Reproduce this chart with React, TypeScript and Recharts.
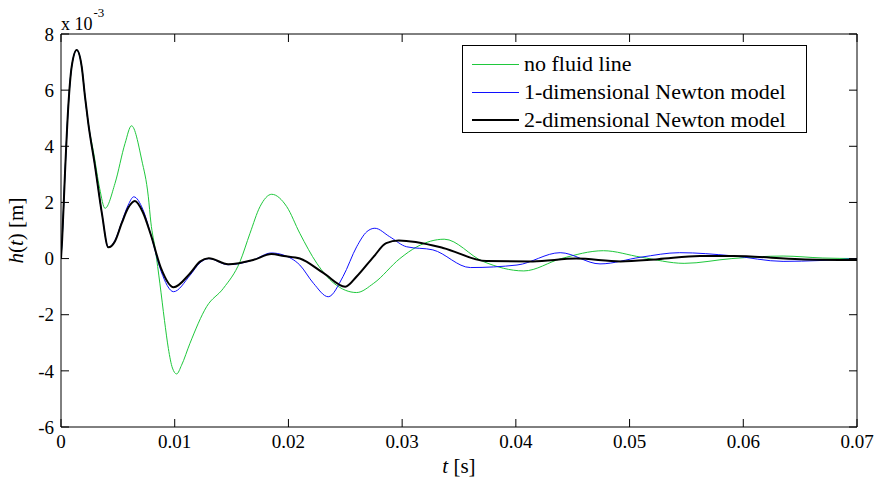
import { LineChart, Line, XAxis, YAxis, Label } from 'recharts'

// time in seconds, height in units of 1e-3 m
const xTicks = [0, 0.01, 0.02, 0.03, 0.04, 0.05, 0.06, 0.07]
const yTicks = [-6, -4, -2, 0, 2, 4, 6, 8]

const greenT = [0, 0.0001, 0.00035, 0.00064, 0.00094, 0.00138, 0.00182, 0.00211, 0.0024, 0.0029, 0.0034, 0.00387, 0.00475, 0.00563, 0.0062, 0.0071, 0.00768, 0.0079, 0.0083, 0.0087, 0.0091, 0.00944, 0.0098, 0.01017, 0.0106, 0.01134, 0.01281, 0.01428, 0.01574, 0.01662, 0.0175, 0.01853, 0.01985, 0.021, 0.0225, 0.024, 0.026, 0.0275, 0.0298, 0.0313, 0.0337, 0.0371, 0.0407, 0.044, 0.0477, 0.051, 0.0548, 0.059, 0.0635, 0.067, 0.07]
const greenH = [0, 0.66, 3.04, 5.41, 6.84, 7.43, 6.84, 5.77, 4.82, 3.7, 2.5, 1.79, 2.68, 4.1, 4.73, 3.51, 2.2, 1.3, 0.3, -0.9, -2.2, -3.2, -3.9, -4.11, -3.8, -3.02, -1.71, -1.06, -0.11, 0.9, 1.85, 2.29, 1.85, 0.9, -0.17, -0.88, -1.21, -0.88, 0.0, 0.42, 0.69, -0.1, -0.44, 0.0, 0.28, 0.05, -0.17, 0.0, 0.09, 0.02, 0.0]

const blueT = [0, 0.0001, 0.00035, 0.00064, 0.00094, 0.00138, 0.00182, 0.00211, 0.0024, 0.003, 0.0036, 0.00416, 0.00475, 0.00534, 0.0059, 0.0064, 0.0072, 0.0079, 0.0088, 0.0099, 0.01134, 0.01222, 0.013, 0.0147, 0.0169, 0.0185, 0.0196, 0.021, 0.0222, 0.0235, 0.0248, 0.026, 0.0269, 0.0276, 0.0289, 0.0304, 0.0327, 0.036, 0.0401, 0.0439, 0.0474, 0.051, 0.0544, 0.059, 0.0635, 0.07]
const blueH = [0, 0.66, 3.04, 5.41, 6.84, 7.43, 6.84, 5.77, 4.82, 3.27, 1.6, 0.4, 0.65, 1.3, 1.9, 2.2, 1.75, 0.85, -0.45, -1.18, -0.6, -0.15, 0.0, -0.22, -0.05, 0.2, 0.12, -0.23, -0.88, -1.36, -0.64, 0.42, 0.96, 1.08, 0.78, 0.42, 0.31, -0.32, -0.23, 0.21, -0.19, 0.05, 0.21, 0.1, -0.1, 0.0]

const blackT = [0, 0.0001, 0.00035, 0.00064, 0.00094, 0.00138, 0.00182, 0.00211, 0.0024, 0.003, 0.0036, 0.00416, 0.00475, 0.00534, 0.0059, 0.0065, 0.0072, 0.0079, 0.0088, 0.0099, 0.01134, 0.01222, 0.013, 0.0147, 0.0169, 0.0185, 0.0196, 0.021, 0.0231, 0.025, 0.026, 0.0275, 0.0286, 0.0297, 0.0336, 0.0374, 0.0415, 0.0453, 0.0492, 0.0525, 0.0562, 0.0591, 0.065, 0.07]
const blackH = [0, 0.66, 3.04, 5.41, 6.84, 7.43, 6.84, 5.77, 4.82, 3.27, 1.6, 0.4, 0.62, 1.26, 1.8, 2.05, 1.65, 0.85, -0.35, -1.02, -0.53, -0.11, 0.01, -0.2, -0.05, 0.16, 0.09, 0.0, -0.52, -1.0, -0.64, 0.07, 0.55, 0.64, 0.38, -0.09, -0.1, 0.0, -0.1, -0.02, 0.09, 0.09, -0.02, -0.05]

const series = [
  { key: 'green', name: 'no fluid line', t: greenT, h: greenH, color: '#1fc83c', width: 1 },
  { key: 'blue', name: '1-dimensional Newton model', t: blueT, h: blueH, color: '#1010ff', width: 1 },
  { key: 'black', name: '2-dimensional Newton model', t: blackT, h: blackH, color: '#000000', width: 2 },
]

const FONT = '"Liberation Serif", "Times New Roman", serif'

const XTick = ({ x, y, payload }: any) => (
  <text x={x} y={y} dy="0.71em" textAnchor="middle" fontFamily={FONT} fontSize={19} fill="#000">
    {String(payload.value)}
  </text>
)

const YTick = ({ x, y, payload }: any) => (
  <text x={x} y={y} dy="0.355em" textAnchor="end" fontFamily={FONT} fontSize={19} fill="#000">
    {String(payload.value)}
  </text>
)

function LegendBox() {
  return (
    <div
      style={{
        position: 'absolute',
        left: 462,
        top: 45,
        width: 343,
        height: 86,
        border: '1px solid #000',
        background: '#fff',
        fontFamily: FONT,
        fontSize: 22,
        color: '#000',
      }}
    >
      {series.map((s, i) => (
        <div
          key={s.key}
          style={{ position: 'absolute', left: 0, top: 6 + i * 28, height: 24, display: 'flex', alignItems: 'center' }}
        >
          <div style={{ width: 47, marginLeft: 9, height: s.width, background: s.color }} />
          <span style={{ marginLeft: 5, whiteSpace: 'nowrap', lineHeight: '24px' }}>{s.name}</span>
        </div>
      ))}
    </div>
  )
}

export default function App() {
  return (
    <div style={{ position: 'absolute', left: 0, top: 0, background: '#fff', fontFamily: FONT }}>
      <LineChart width={874} height={483} margin={{ top: 33, right: 16, left: 0, bottom: 0 }}>
        <XAxis
          xAxisId="b"
          dataKey="t"
          type="number"
          domain={[0, 0.07]}
          ticks={xTicks}
          tick={<XTick />}
          tickSize={-8}
          tickMargin={16}
          height={56}
          stroke="#000"
          allowDataOverflow
        >
          <Label
            content={({ viewBox }: any) => (
              <text x={viewBox.x + viewBox.width / 2} y={473} textAnchor="middle" fontFamily={FONT} fontSize={21}>
                <tspan fontStyle="italic">t</tspan> [s]
              </text>
            )}
          />
        </XAxis>
        <XAxis
          xAxisId="t"
          orientation="top"
          dataKey="t"
          type="number"
          domain={[0, 0.07]}
          ticks={xTicks}
          tickFormatter={() => ''}
          tickSize={-8}
          height={1}
          stroke="#000"
          allowDataOverflow
        />
        <YAxis
          yAxisId="l"
          type="number"
          domain={[-6, 8]}
          ticks={yTicks}
          tick={<YTick />}
          tickSize={-8}
          tickMargin={15}
          width={61}
          stroke="#000"
          allowDataOverflow
        >
          <Label
            content={({ viewBox }: any) => (
              <text
                x={16}
                y={viewBox.y + viewBox.height / 2}
                textAnchor="middle"
                dominantBaseline="central"
                fontFamily={FONT}
                fontSize={21}
                transform={`rotate(-90 16 ${viewBox.y + viewBox.height / 2})`}
              >
                <tspan fontStyle="italic">h</tspan>(<tspan fontStyle="italic">t</tspan>) [m]
              </text>
            )}
          />
          <Label
            content={() => (
              <text x={61} y={30} fontFamily={FONT} fontSize={18}>
                x 10
                <tspan fontSize={13} dx={1} dy={-13}>-3</tspan>
              </text>
            )}
          />
        </YAxis>
        <YAxis
          yAxisId="r"
          orientation="right"
          type="number"
          domain={[-6, 8]}
          ticks={yTicks}
          tickFormatter={() => ''}
          tickSize={-8}
          width={1}
          stroke="#000"
          allowDataOverflow
        />
        {/* invisible copy bound to the top/right axes so they get drawn as the box */}
        <Line
          xAxisId="t"
          yAxisId="r"
          data={blackT.map((t, i) => ({ t, h: blackH[i] }))}
          dataKey="h"
          stroke="none"
          dot={false}
          activeDot={false}
          legendType="none"
          isAnimationActive={false}
        />
        {series.map((s) => (
          <Line
            key={s.key}
            xAxisId="b"
            yAxisId="l"
            data={s.t.map((t, i) => ({ t, h: s.h[i] }))}
            dataKey="h"
            name={s.name}
            type="monotone"
            stroke={s.color}
            strokeWidth={s.width}
            dot={false}
            activeDot={false}
            isAnimationActive={false}
          />
        ))}
      </LineChart>
      <LegendBox />
    </div>
  )
}
